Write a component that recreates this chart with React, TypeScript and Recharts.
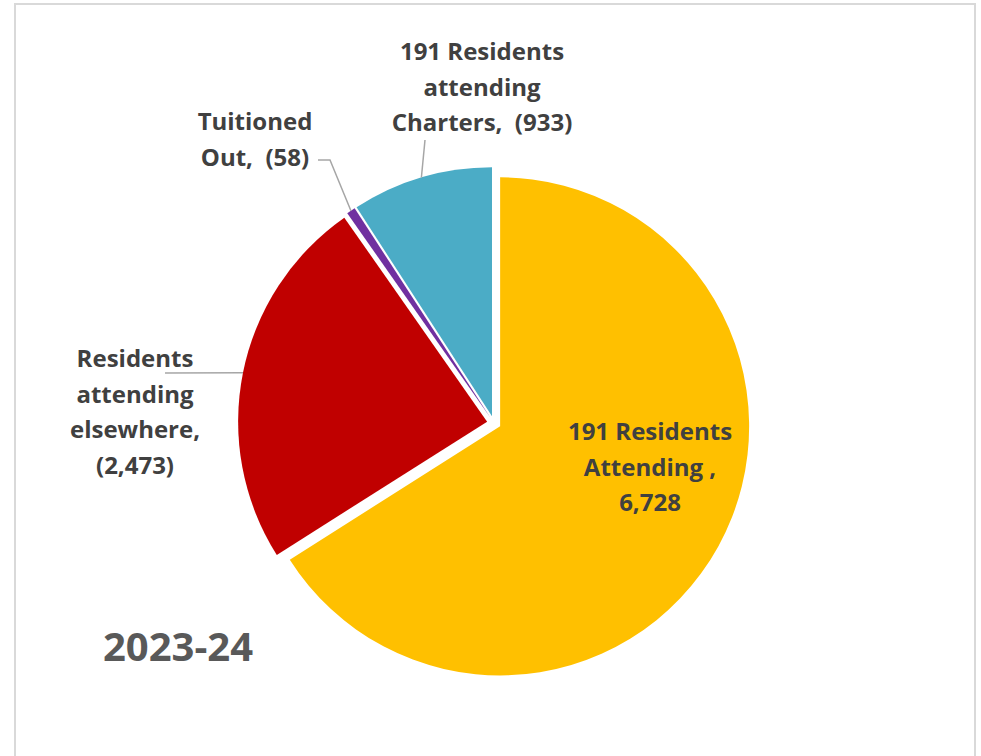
import { Cell, Pie, PieChart } from "recharts";

const categories = [
  "191 Residents Attending",
  "Residents attending elsewhere",
  "Tuitioned Out",
  "191 Residents attending Charters",
];
const values = [6728, 2473, 58, 933];
const colors = ["#FFC000", "#C00000", "#7030A0", "#4BACC6"];
const labelText = [
  ["191 Residents", "Attending ,", "6,728"],
  ["Residents", "attending", "elsewhere,", "(2,473)"],
  ["Tuitioned", "Out,\u00a0 (58)"],
  ["191 Residents", "attending", "Charters,\u00a0 (933)"],
];
const title = "2023-24";

const data = categories.map((name, i) => ({ name, value: values[i] }));
const total = values.reduce((a, b) => a + b, 0);

const CX = 494;
const CY = 423;
const R = 249;
const EXPLODE = 7;
const RAD = Math.PI / 180;
const FONT = "'Open Sans', 'Noto Sans', sans-serif";

// mid angle of every slice (recharts degrees, counter-clockwise from 3 o'clock)
const midAngles = values.map((v, i) => {
  const before = values.slice(0, i).reduce((a, b) => a + b, 0);
  return 90 - (360 * (before + v / 2)) / total;
});

// label text block and leader line bends, relative to the pie centre
const labelLayout = [
  { dx: 156, dy: 7, line: [] as number[][] },
  { dx: -359, dy: -66, line: [[-329, -50]] },
  { dx: -239, dy: -303, line: [[-164, -263], [-176, -263]] },
  { dx: -12, dy: -373, line: [[-69, -283]] },
];

function renderLabel(props: any, slice: number) {
  if (props.index !== slice) return null;
  const { cx, cy, outerRadius, midAngle } = props;
  const lay = labelLayout[slice];
  const ex = cx + outerRadius * Math.cos(-midAngle * RAD);
  const ey = cy + outerRadius * Math.sin(-midAngle * RAD);
  const pts = [[ex, ey], ...lay.line.map(([x, y]) => [CX + x, CY + y])];
  const tx = CX + lay.dx;
  return (
    <g>
      {lay.line.length > 0 && (
        <polyline
          points={pts.map((p) => p.join(",")).join(" ")}
          fill="none"
          stroke="#a6a6a6"
          strokeWidth={1.5}
        />
      )}
      <text
        x={tx}
        y={CY + lay.dy}
        textAnchor="middle"
        dominantBaseline="central"
        fill="#404040"
        fontFamily={FONT}
        fontWeight={700}
        fontSize={24}
      >
        {labelText[slice].map((t, k) => (
          <tspan key={k} x={tx} dy={k === 0 ? 0 : 35.5}>
            {t}
          </tspan>
        ))}
      </text>
    </g>
  );
}

export default function App() {
  return (
    <div
      style={{
        position: "absolute",
        left: 0,
        top: 0,
        width: 981,
        height: 756,
        overflow: "hidden",
        background: "#fff",
      }}
    >
      <div
        style={{
          position: "absolute",
          left: 14,
          top: 3,
          width: 958,
          height: 800,
          border: "2px solid #d9d9d9",
        }}
      />
      <PieChart width={981} height={756} margin={{ top: 0, right: 0, bottom: 0, left: 0 }}>
        {values.map((_, s) => (
          <Pie
            key={s}
            data={data}
            dataKey="value"
            nameKey="name"
            cx={CX + EXPLODE * Math.cos(-midAngles[s] * RAD)}
            cy={CY + EXPLODE * Math.sin(-midAngles[s] * RAD)}
            outerRadius={R}
            startAngle={90}
            endAngle={-270}
            stroke="none"
            isAnimationActive={false}
            labelLine={false}
            label={(props: any) => renderLabel(props, s)}
          >
            {data.map((d, i) => (
              <Cell key={d.name} fill={i === s ? colors[i] : "none"} stroke="none" />
            ))}
          </Pie>
        ))}
      </PieChart>
      <div
        style={{
          position: "absolute",
          left: 103,
          top: 626,
          fontFamily: FONT,
          fontWeight: 700,
          fontSize: 40,
          lineHeight: 1,
          color: "#595959",
        }}
      >
        {title}
      </div>
    </div>
  );
}
